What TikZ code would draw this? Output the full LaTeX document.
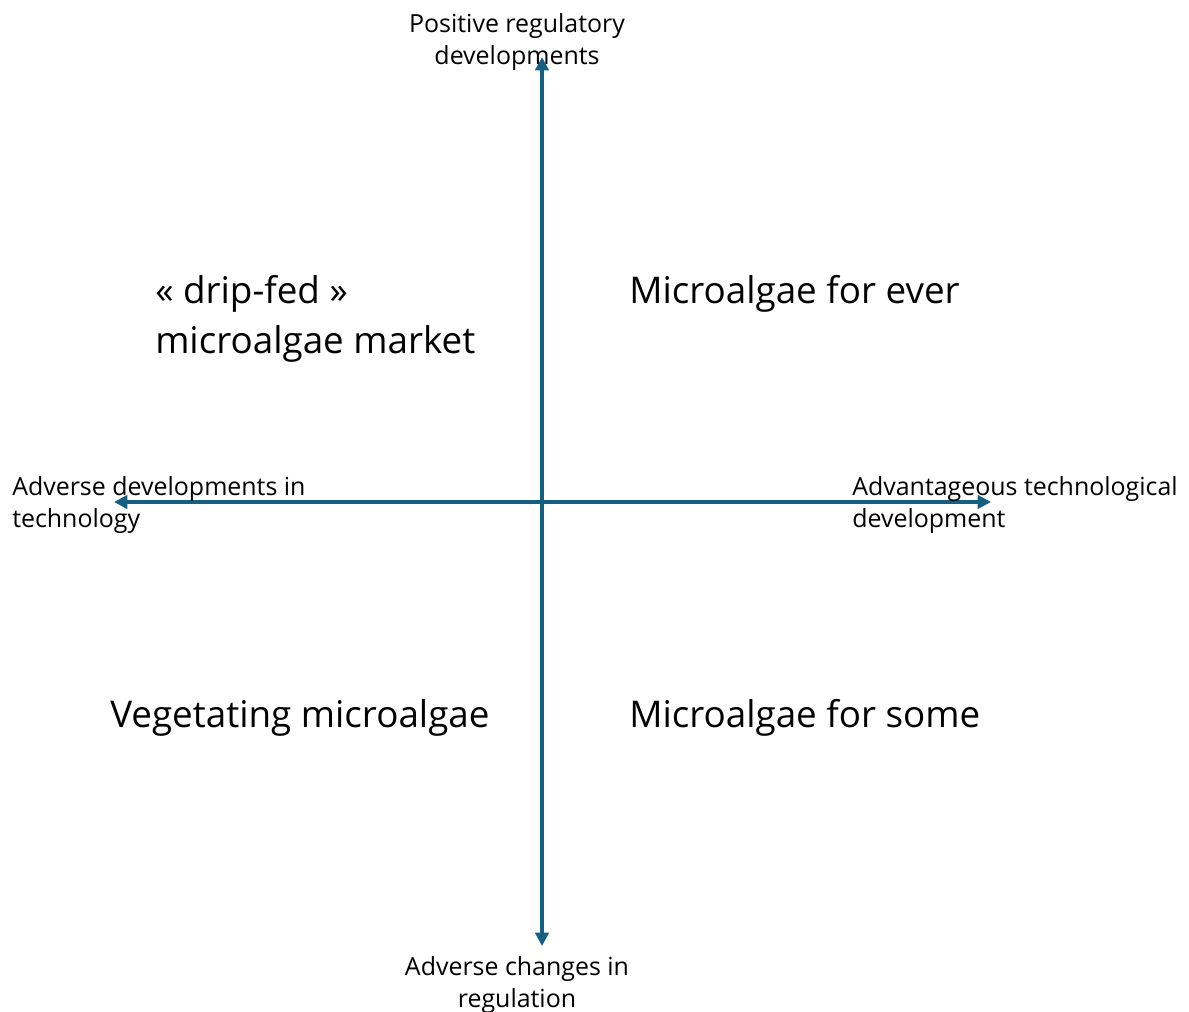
\documentclass[tikz,border=0pt]{standalone}
\usepackage{fontspec}
\setmainfont{Open Sans}
\usetikzlibrary{arrows.meta}
\definecolor{axisblue}{HTML}{156082}
\tikzset{
  axis/.style={axisblue, line width=2.4pt, {Triangle[length=10pt,width=10pt]}-{Triangle[length=10pt,width=10pt]}},
  axislabel/.style={inner sep=0pt, font=\fontsize{18.7}{24}\selectfont},
  scenario/.style={inner sep=0pt, font=\fontsize{27.6}{37.5}\selectfont, anchor=base west, align=left}
}
\begin{document}
\begin{tikzpicture}[x=0.75pt, y=-0.75pt]
  \useasboundingbox (0,0) rectangle (1189,1011);
  % axis ends
  \coordinate (top) at (542,57);
  \coordinate (bottom) at (542,946);
  \coordinate (left) at (114,502);
  \coordinate (right) at (991,502);
  \draw[axis] (bottom) -- (top);
  \draw[axis] (left) -- (right);
  % axis labels (base = last line)
  \node[axislabel, anchor=base, align=center] (regup) at (517,64) {Positive regulatory\\developments};
  \node[axislabel, anchor=base, align=center] (regdown) at (517,1007) {Adverse changes in\\regulation};
  \node[axislabel, anchor=base west, align=left] (techdown) at (12,527) {Adverse developments in\\technology};
  \node[axislabel, anchor=base west, align=left] (techup) at (852,527) {Advantageous technological\\development};
  % scenarios
  \node[scenario] (dripfed) at (155,353) {« drip-fed »\\microalgae market};
  \node[scenario] (forever) at (629,303) {Microalgae for ever};
  \node[scenario] (vegetating) at (110,727) {Vegetating microalgae};
  \node[scenario] (forsome) at (629,727) {Microalgae for some};
\end{tikzpicture}
\end{document}
